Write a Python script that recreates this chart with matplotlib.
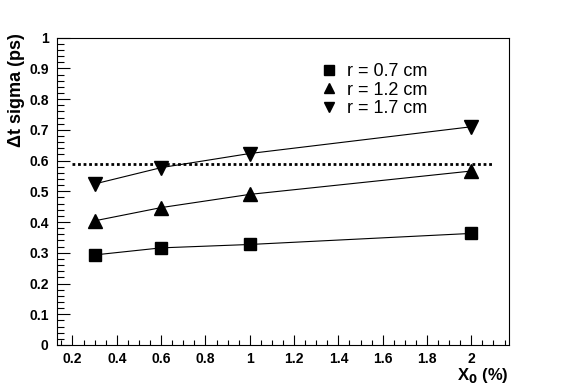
import matplotlib
matplotlib.use("Agg")
import matplotlib.pyplot as plt
from matplotlib.ticker import MultipleLocator

plt.rcParams['font.family'] = ['Liberation Sans', 'DejaVu Sans']

x0 = [0.3, 0.6, 1.0, 2.0]
sig_r07 = [0.293, 0.316, 0.327, 0.363]
sig_r12 = [0.404, 0.447, 0.490, 0.566]
sig_r17 = [0.524, 0.577, 0.623, 0.710]
labels = ['r = 0.7 cm', 'r = 1.2 cm', 'r = 1.7 cm']
ref_level = 0.59
ref_x = [0.2, 2.1]

fig = plt.figure(figsize=(5.67, 3.84), dpi=100)
ax = fig.add_axes([0.1005, 0.1016, 0.7972, 0.8004])

# connecting lines first, markers on top (legend shows markers only)
for sig, mk, ms, lab in zip([sig_r07, sig_r12, sig_r17], ['s', '^', 'v'], [9.1, 9.5, 9.5], labels):
    ax.plot(x0, sig, color='black', lw=0.8)
    ax.plot(x0, sig, color='black', ls='none', marker=mk, ms=ms, label=lab)
ax.plot(ref_x, [ref_level, ref_level], color='black', lw=2, ls=(0, (1, 1)))

ax.set_xlim(0.13, 2.17)
ax.set_ylim(0, 1)
ax.xaxis.set_minor_locator(MultipleLocator(0.05))
ax.yaxis.set_minor_locator(MultipleLocator(0.02))
ax.set_xticks([0.2, 0.4, 0.6, 0.8, 1.0, 1.2, 1.4, 1.6, 1.8, 2.0])
ax.set_xticklabels(['0.2', '0.4', '0.6', '0.8', '1', '1.2', '1.4', '1.6', '1.8', '2'])
ax.set_yticks([i / 10 for i in range(11)])
ax.set_yticklabels(['0', '0.1', '0.2', '0.3', '0.4', '0.5', '0.6', '0.7', '0.8', '0.9', '1'])

ax.tick_params(axis='y', which='major', direction='in', length=9.5, width=0.8, labelsize=10, pad=6)
ax.tick_params(axis='y', which='minor', direction='in', length=5, width=0.8)
ax.tick_params(axis='x', which='major', direction='in', length=7, width=0.8, labelsize=10, pad=5)
ax.tick_params(axis='x', which='minor', direction='in', length=3.5, width=0.8)
for lab in ax.get_xticklabels() + ax.get_yticklabels():
    lab.set_fontweight('bold')
for s in ax.spines.values():
    s.set_linewidth(0.8)

ax.set_ylabel('Δt sigma (ps)', fontsize=13, fontweight='bold')
ax.yaxis.set_label_coords(-0.07, 0.83)
ax.set_xlabel('X$_\\mathbf{0}$ (%)', fontsize=12, fontweight='bold', loc='right')
ax.xaxis.set_label_coords(1.0, -0.068)

ax.legend(loc='upper left', bbox_to_anchor=(0.55, 0.97), frameon=False, fontsize=13,
          handlelength=0.8, handletextpad=0.6, labelspacing=0.08, markerscale=0.72)

fig.savefig('out.png', dpi=100)
